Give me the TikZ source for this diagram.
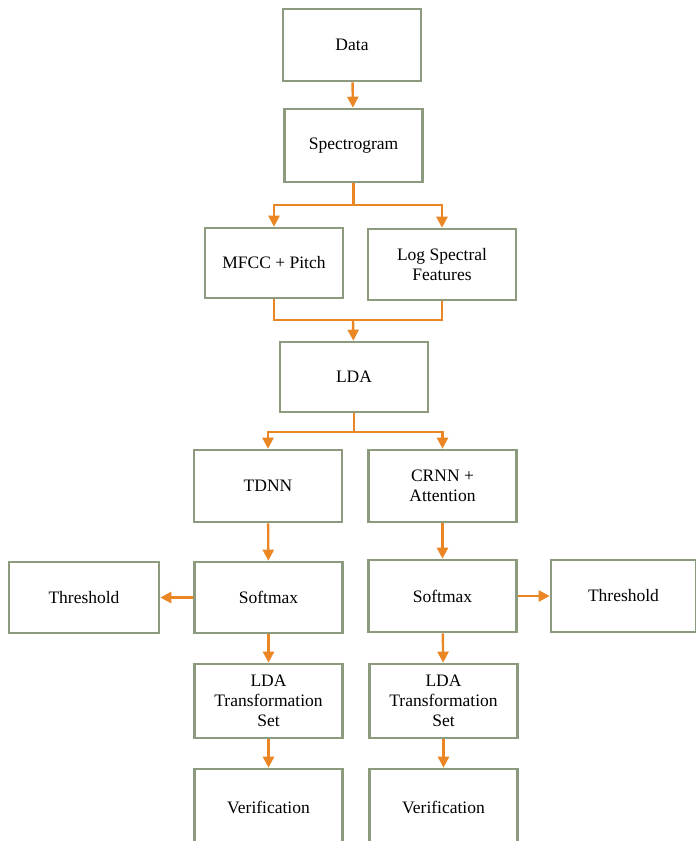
\documentclass[tikz,border=0pt]{standalone}
\usepackage{fontspec}
\setmainfont{Liberation Serif}
\usepackage{tikz}
\usetikzlibrary{arrows.meta,shapes}
\definecolor{boxgreen}{RGB}{140,155,125}
\definecolor{arrorange}{RGB}{234,134,36}
\tikzstyle{edge} = [draw,arrorange,line width=2.4pt,-]
\tikzstyle{dedge} = [draw,arrorange,line width=2.4pt,-{Triangle[length=11pt,width=11pt]}]
\tikzset{
  stage/.style = {rectangle, draw=boxgreen, line width=2.6pt, align=center,
    inner sep=0pt, font=\fontsize{17.5}{20}\selectfont},
  wbox/.style = {stage, minimum width=148pt, minimum height=72pt},% most boxes
  nbox/.style = {stage, minimum width=138pt, minimum height=72pt},% narrow top boxes
}

\begin{document}
\begin{tikzpicture}[x=1pt,y=-1pt]
                    \useasboundingbox (0,0) rectangle (696,841);

                        \node[nbox] (data) at (352,45) {Data};
                        \node[nbox,minimum height=73pt] (spec) at (353.5,145.5) {Spectrogram};
                        \node[nbox,minimum height=70pt] (mfcc) at (274,263) {MFCC + Pitch};
                        \node[wbox,minimum height=71pt] (logs) at (442,264.5) {Log Spectral\\Features};
                        \node[wbox,minimum height=70pt] (lda) at (354,377) {LDA};
                        \node[wbox] (tdnn) at (268,486) {TDNN};
                        \node[wbox] (crnn) at (442.5,486) {CRNN +\\Attention};
                        \node[wbox,minimum width=150pt,minimum height=71pt] (thrL) at (84,597.5) {Threshold};
                        \node[wbox,minimum height=71pt] (smL) at (268.5,597.5) {Softmax};
                        \node[wbox] (smR) at (442.5,596) {Softmax};
                        \node[wbox,minimum width=145pt] (thrR) at (623.5,596) {Threshold};
                        \node[wbox,minimum height=74pt] (setL) at (268.5,701) {LDA\\Transformation\\Set};
                        \node[wbox,minimum height=74pt] (setR) at (443.5,701) {LDA\\Transformation\\Set};
                        \node[wbox,minimum height=76pt] (verL) at (268.5,807) {Verification};
                        \node[wbox,minimum height=76pt] (verR) at (443.5,807) {Verification};

                        \coordinate (s1) at (353.5,205);
                        \coordinate (m1) at (353,320);
                        \coordinate (l1) at (354,432);

                        \path[dedge] (data) -- (spec);
                        \path[dedge] (spec) -- (s1) -| (mfcc);
                        \path[dedge] (s1) -| (logs);
                        \path[edge] (mfcc) |- (m1) -| (logs);
                        \path[dedge] (m1) -- (lda);
                        \path[dedge] (lda) -- (l1) -| (tdnn);
                        \path[dedge] (l1) -| (crnn);
                        \path[dedge] (tdnn) -- (smL);
                        \path[dedge] (crnn) -- (smR);
                        \path[dedge] (smL) -- (thrL);
                        \path[dedge] (smR) -- (thrR);
                        \path[dedge] (smL) -- (setL);
                        \path[dedge] (smR) -- (setR);
                        \path[dedge] (setL) -- (verL);
                        \path[dedge] (setR) -- (verR);
                \end{tikzpicture}
\end{document}
